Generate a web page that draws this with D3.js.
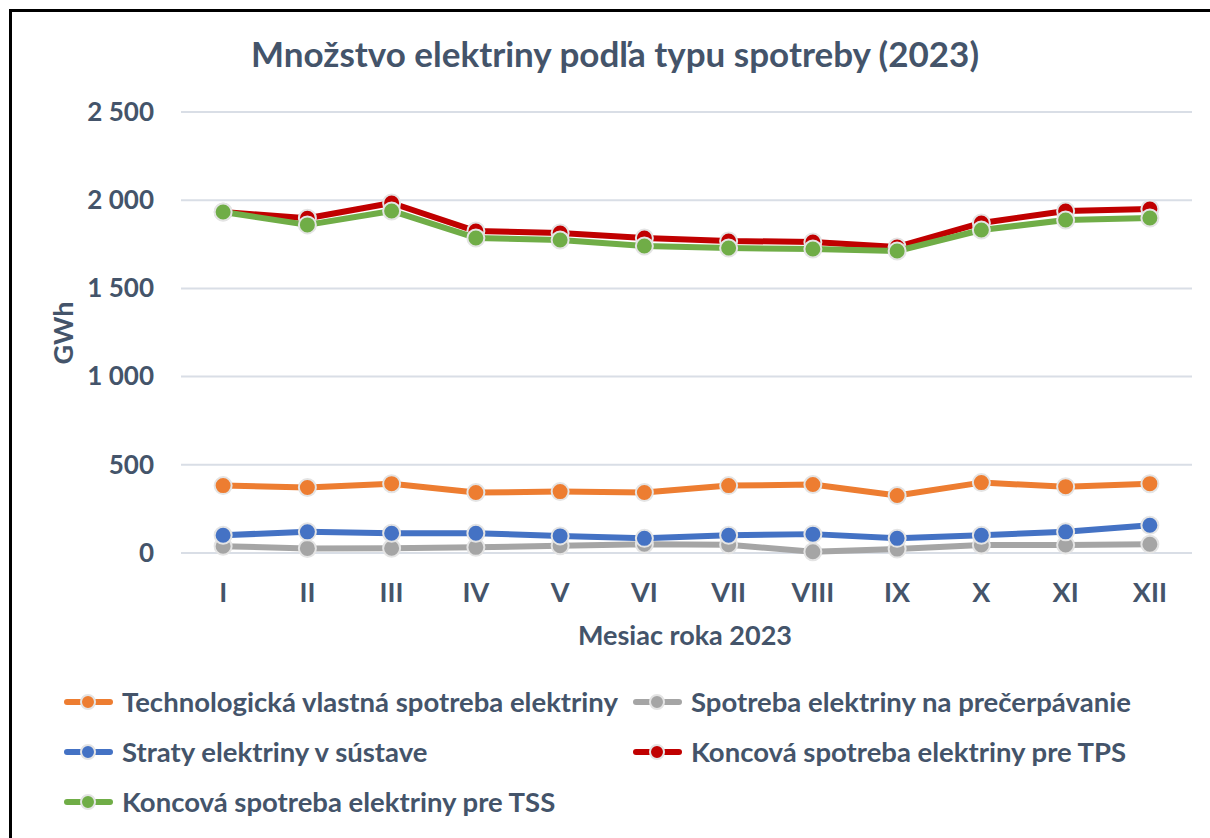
<!DOCTYPE html>
<html>
<head>
<meta charset="utf-8">
<script src="https://cdn.jsdelivr.net/npm/d3@7"></script>
<style>
  body { margin: 0; background: #fff; }
  svg { display: block; font-family: Lato, "Open Sans", sans-serif; }
</style>
</head>
<body>
<svg width="1210" height="838"></svg>
<script>
const width = 1210, height = 838;

// months (roman numerals)
const months = ["I", "II", "III", "IV", "V", "VI", "VII", "VIII", "IX", "X", "XI", "XII"];
const yTicks = [0, 500, 1000, 1500, 2000, 2500];

// GWh
const technologicka = [382, 371, 393, 343, 348, 343, 382, 388, 326, 399, 376, 393];
const precerpavanie = [38, 26, 27, 32, 41, 50, 47, 7, 22, 45, 45, 50];
const straty = [101, 120, 112, 112, 97, 83, 101, 107, 83, 101, 120, 157];
const koncovaTPS = [1933, 1898, 1984, 1825, 1814, 1786, 1769, 1763, 1735, 1871, 1939, 1950];
const koncovaTSS = [1933, 1860, 1939, 1786, 1774, 1740, 1729, 1723, 1712, 1831, 1888, 1899];

const seriesNames = [
    "Technologická vlastná spotreba elektriny",
    "Spotreba elektriny na prečerpávanie",
    "Straty elektriny v sústave",
    "Koncová spotreba elektriny pre TPS",
    "Koncová spotreba elektriny pre TSS"
];
const seriesColors = ["#ED7D31", "#A5A5A5", "#4472C4", "#C00000", "#70AD47"];
const seriesValues = [technologicka, precerpavanie, straty, koncovaTPS, koncovaTSS];

const series = seriesNames.map((name, i) => ({name, color: seriesColors[i], values: seriesValues[i]}));

const textColor = "#44546A";
const margin = {left: 181, right: 18, top: 112, bottom: 285}; // plot 181..1192, 112..553

const svg = d3.select("svg");

// outer frame (only top + left show in the reference)
svg.append("path")
    .attr("d", `M10.5,${height} V10.5 H${width}`)
    .attr("fill", "none")
    .attr("stroke", "#000")
    .attr("stroke-width", 3);

const x = d3.scaleBand()
    .domain(months)
    .range([margin.left, width - margin.right]);

const y = d3.scaleLinear()
    .domain([0, 2500])
    .range([height - margin.bottom, margin.top]);

// gridlines
svg.append("g")
    .selectAll("line")
    .data(yTicks)
    .enter().append("line")
    .attr("x1", margin.left)
    .attr("x2", width - margin.right)
    .attr("y1", d => y(d))
    .attr("y2", d => y(d))
    .attr("stroke", "#D9DEE6")
    .attr("stroke-width", 2);

// y axis labels
const yAxis = svg.append("g")
    .attr("transform", `translate(${margin.left - 27},0)`)
    .call(d3.axisLeft(y).tickValues(yTicks).tickSize(0).tickPadding(0)
        .tickFormat(d => d3.format(",")(d).replace(",", " ")));
yAxis.select(".domain").remove();
yAxis.selectAll("text")
    .attr("fill", textColor)
    .attr("font-size", 26)
    .attr("font-weight", "bold")
    .attr("font-family", "Lato");

// x axis labels
const xAxis = svg.append("g")
    .attr("transform", `translate(0,${y(0)})`)
    .call(d3.axisBottom(x).tickSize(0).tickPadding(0));
xAxis.select(".domain").remove();
xAxis.selectAll("text")
    .attr("y", 49)
    .attr("dy", 0)
    .attr("fill", textColor)
    .attr("font-size", 27)
    .attr("font-weight", "bold")
    .attr("font-family", "Lato");

// title + axis titles
svg.append("text")
    .attr("x", 615).attr("y", 67)
    .attr("text-anchor", "middle")
    .attr("fill", textColor)
    .attr("font-size", 35)
    .attr("font-weight", "bold")
    .text("Množstvo elektriny podľa typu spotreby (2023)");

svg.append("text")
    .attr("x", 685).attr("y", 645)
    .attr("text-anchor", "middle")
    .attr("fill", textColor)
    .attr("font-size", 27)
    .attr("font-weight", "bold")
    .text("Mesiac roka 2023");

svg.append("text")
    .attr("transform", "translate(73,333) rotate(-90)")
    .attr("text-anchor", "middle")
    .attr("fill", textColor)
    .attr("font-size", 27)
    .attr("font-weight", "bold")
    .text("GWh");

// lines + markers
const cx = d => x(d) + x.bandwidth() / 2;
const line = d3.line()
    .x((v, i) => cx(months[i]))
    .y(v => y(v));

const sg = svg.append("g")
    .selectAll("g")
    .data(series)
    .enter().append("g");

sg.append("path")
    .attr("d", d => line(d.values))
    .attr("fill", "none")
    .attr("stroke", d => d.color)
    .attr("stroke-width", 6)
    .attr("stroke-linejoin", "round");

sg.selectAll("circle")
    .data(d => d.values.map((v, i) => ({v, i, color: d.color})))
    .enter().append("circle")
    .attr("cx", d => cx(months[d.i]))
    .attr("cy", d => y(d.v))
    .attr("r", 8.5)
    .attr("fill", d => d.color)
    .attr("stroke", "#E4E4E4")
    .attr("stroke-width", 2);

// legend
const legendPos = [[65, 702], [634, 702], [65, 752], [634, 752], [65, 802]];
const lg = svg.append("g")
    .selectAll("g")
    .data(series)
    .enter().append("g")
    .attr("transform", (d, i) => `translate(${legendPos[i][0]},${legendPos[i][1]})`);

lg.append("line")
    .attr("x1", 2).attr("x2", 45)
    .attr("stroke", d => d.color)
    .attr("stroke-width", 6)
    .attr("stroke-linecap", "round");
lg.append("circle")
    .attr("cx", 23).attr("r", 7)
    .attr("fill", d => d.color)
    .attr("stroke", "#E4E4E4")
    .attr("stroke-width", 2);
lg.append("text")
    .attr("x", 57).attr("y", 10)
    .attr("fill", textColor)
    .attr("font-size", 27.5)
    .attr("font-weight", "bold")
    .text(d => d.name);
</script>
</body>
</html>
